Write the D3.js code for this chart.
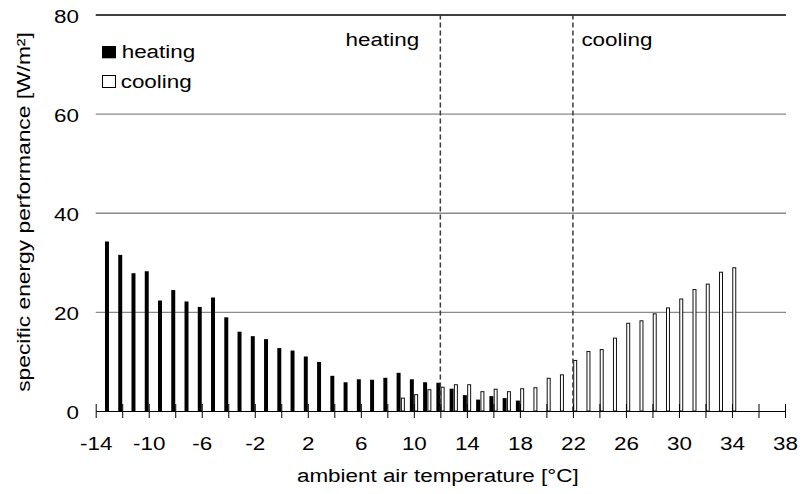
<!DOCTYPE html>
<html>
<head>
<meta charset="utf-8">
<script src="https://cdn.jsdelivr.net/npm/d3@7"></script>
<style>
  html, body { margin: 0; padding: 0; background: #fff; }
  svg { display: block; font-family: "Liberation Sans", Arial, Helvetica, sans-serif; }
</style>
</head>
<body>
<svg id="chart" width="802" height="494"></svg>
<script>
// Specific energy performance by ambient air temperature (1 °C bins)
const heatingTemps = [-13, -12, -11, -10, -9, -8, -7, -6, -5, -4, -3, -2, -1, 0, 1, 2,
                      3, 4, 5, 6, 7, 8, 9, 10, 11, 12, 13, 14, 15, 16, 17, 18];
const heatingValues = [34.2, 31.5, 27.8, 28.2, 22.3, 24.4, 22.1, 21.0, 22.9, 18.9, 16.0, 15.1, 14.5, 12.7, 12.2, 11.0,
                       9.9, 7.1, 5.8, 6.4, 6.3, 6.7, 7.7, 6.4, 5.8, 5.7, 4.5, 3.2, 2.3, 3.0, 2.6, 2.1];

const coolingTemps = [9, 10, 11, 12, 13, 14, 15, 16, 17, 18, 19, 20, 21,
                      22, 23, 24, 25, 26, 27, 28, 29, 30, 31, 32, 33, 34];
const coolingValues = [2.7, 3.4, 4.4, 4.9, 5.4, 5.4, 4.0, 4.5, 4.0, 4.6, 4.8, 6.7, 7.4,
                       10.3, 12.1, 12.5, 14.8, 17.8, 18.3, 19.7, 20.9, 22.7, 24.6, 25.7, 28.1, 29.0];

const xTickValues = [-14, -12, -10, -8, -6, -4, -2, 0, 2, 4, 6, 8, 10, 12, 14, 16, 18,
                     20, 22, 24, 26, 28, 30, 32, 34, 36, 38];
const xTickLabels = [-14, -10, -6, -2, 2, 6, 10, 14, 18, 22, 26, 30, 34, 38];
const yTickValues = [0, 20, 40, 60, 80];

const boundaryTemps = [12, 22];          // heating limit / cooling limit
const seriesNames = ["heating", "cooling"];
const xTitle = "ambient air temperature [°C]";
const yTitle = "specific energy performance [W/m²]";

const FS = 19;     // font size
const SX = 1.18;   // horizontal widening of the lettering

const svg = d3.select("#chart");
const x = d3.scaleLinear().domain([-14, 38]).range([95.7, 785]);
const y = d3.scaleLinear().domain([0, 80]).range([411, 14.5]);

// widened text helper
function label(parent, px, py, txt, anchor, rot, sx) {
  const g = parent.append("g")
    .attr("transform", `translate(${px},${py})` + (rot ? ` rotate(${rot})` : "") + ` scale(${sx || SX},1)`);
  return g.append("text")
    .attr("text-anchor", anchor)
    .attr("font-size", FS)
    .attr("fill", "#000")
    .text(txt);
}

// horizontal gridlines + y tick labels
const gy = svg.append("g")
  .attr("transform", `translate(${x.range()[0]},0)`)
  .call(d3.axisLeft(y).tickValues(yTickValues)
    .tickSize(-(x.range()[1] - x.range()[0] + 1)).tickFormat(""));
gy.select(".domain").remove();
gy.selectAll(".tick line")
  .attr("stroke", d => d === 80 ? "#000" : "#8a8a8a")
  .attr("stroke-width", d => d === 80 ? 1.6 : 1.3);
gy.selectAll(".tick").filter(d => d === 0).select("line").remove();
gy.selectAll(".tick").each(function (d) {
  label(d3.select(this), -16.7, 7.5, String(d), "end");
});

// heating bars (solid, left of the bin mark)
const unit = x(1) - x(0);
const barW = unit * 0.3;
svg.append("g")
  .selectAll("rect")
  .data(heatingTemps.map((t, i) => ({ t, v: heatingValues[i] })))
  .join("rect")
  .attr("x", d => x(d.t) - barW)
  .attr("width", barW)
  .attr("y", d => y(d.v))
  .attr("height", d => y(0) - y(d.v))
  .attr("fill", "#000");

// cooling bars (outlined, right of the bin mark)
svg.append("g")
  .selectAll("rect")
  .data(coolingTemps.map((t, i) => ({ t, v: coolingValues[i] })))
  .join("rect")
  .attr("x", d => x(d.t) + 0.8)
  .attr("width", barW - 1)
  .attr("y", d => y(d.v) + 0.5)
  .attr("height", d => y(0) - y(d.v) - 0.5)
  .attr("fill", "#fff")
  .attr("stroke", "#111")
  .attr("stroke-width", 1);

// boundary temperatures
svg.append("g")
  .selectAll("line")
  .data(boundaryTemps)
  .join("line")
  .attr("x1", d => x(d)).attr("x2", d => x(d))
  .attr("y1", y(80)).attr("y2", y(0))
  .attr("stroke", "#3a3a3a")
  .attr("stroke-width", 1.5)
  .attr("stroke-dasharray", "5,3");

// x axis with ticks crossing the baseline
const gx = svg.append("g")
  .attr("transform", `translate(0,${y(0)})`)
  .call(d3.axisBottom(x).tickValues(xTickValues).tickSizeOuter(0).tickFormat(""));
gx.select(".domain").attr("stroke", "#000");
gx.selectAll(".tick line").attr("stroke", "#000").attr("y1", -7).attr("y2", 7);
gx.selectAll(".tick").filter(d => xTickLabels.includes(d)).each(function (d) {
  label(d3.select(this), 0, 39, String(d), "middle");
});

// axis titles
label(svg, 437.8, 482, xTitle, "middle");
label(svg, 29.5, 212, yTitle, "middle", -90, 1.2);

// region captions beside the boundary lines
label(svg, x(boundaryTemps[0]) - 58, 46, seriesNames[0], "middle");
label(svg, x(boundaryTemps[1]) + 44, 46, seriesNames[1], "middle");

// legend
const lg = svg.append("g");
lg.append("rect").attr("x", 102).attr("y", 46).attr("width", 14).attr("height", 12.3).attr("fill", "#000");
label(lg, 121.7, 58.3, seriesNames[0], "start");
lg.append("rect").attr("x", 102.5).attr("y", 75.5).attr("width", 13).attr("height", 12)
  .attr("fill", "#fff").attr("stroke", "#000").attr("stroke-width", 1);
label(lg, 120.7, 88, seriesNames[1], "start");
</script>
</body>
</html>
